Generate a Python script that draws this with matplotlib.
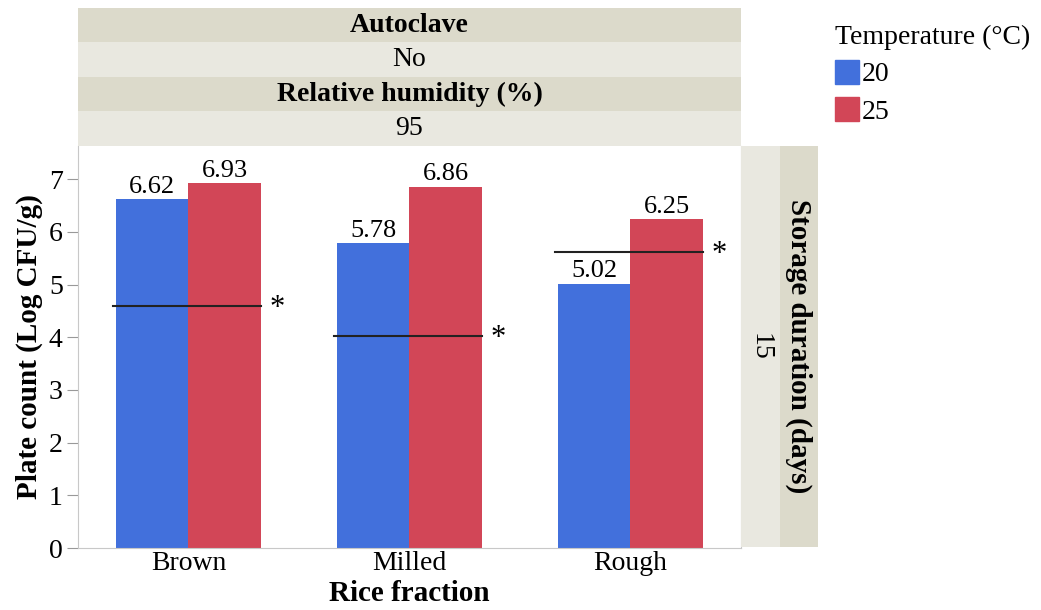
import matplotlib.pyplot as plt
import numpy as np
from matplotlib.patches import Patch

plt.rcParams['font.family'] = ['Liberation Serif', 'DejaVu Serif']

# data
fractions = ["Brown", "Milled", "Rough"]
temps = ["20", "25"]
count_20 = [6.62, 5.78, 5.02]
count_25 = [6.93, 6.86, 6.25]
ref_line = [4.6, 4.02, 5.62]   # reference levels marked with *

blue = "#4270dc"
red = "#d24657"
band_dark = "#dcdacb"
band_light = "#e9e8e0"
edge_gray = "#c8c8c8"

fig = plt.figure(figsize=(10.41, 6.10), dpi=100)

# main plot
ax = fig.add_axes([0.0749, 0.1016, 0.6369, 0.6591])
x = np.arange(len(fractions))
w = 0.327
ax.bar(x - w/2, count_20, w, color=blue)
ax.bar(x + w/2, count_25, w, color=red)

for i in range(len(fractions)):
    ax.text(x[i] - w/2, count_20[i] + 0.02, f"{count_20[i]:.2f}", ha="center", va="bottom", fontsize=19)
    ax.text(x[i] + w/2, count_25[i] + 0.02, f"{count_25[i]:.2f}", ha="center", va="bottom", fontsize=19)
    ax.plot([x[i] - 0.34, x[i] + 0.33], [ref_line[i], ref_line[i]], color="#222222", lw=1.5)
    ax.text(x[i] + 0.40, ref_line[i] - 0.05, "*", ha="center", va="center", fontsize=22)

ax.set_xlim(-0.5, 2.5)
ax.set_ylim(0, 7.63)
ax.set_yticks(range(8))
ax.set_xticks(x)
ax.set_xticklabels(fractions)
ax.tick_params(axis="both", labelsize=20, color="#999999")
ax.tick_params(axis="x", length=0, pad=2)
ax.tick_params(axis="y", length=8, pad=3)
for s in ["left", "bottom", "right"]:
    ax.spines[s].set_color(edge_gray)
ax.spines["top"].set_visible(False)
ax.set_ylabel("Plate count (Log CFU/g)", fontsize=21, fontweight="bold", labelpad=4)
ax.set_xlabel("Rice fraction", fontsize=21, fontweight="bold", labelpad=3)

# header bands on top
hx = fig.add_axes([0.0749, 0.7607, 0.6369, 0.2262])
hx.set_xlim(0, 1)
hx.set_ylim(0, 4)
header_text = ["95", "Relative humidity (%)", "No", "Autoclave"]
for k in range(4):
    hx.axhspan(k, k + 1, color=band_dark if k % 2 else band_light, lw=0)
    hx.text(0.5, k + 0.5, header_text[k], ha="center", va="center", fontsize=20,
            fontweight="bold" if k % 2 else "normal")
hx.axis("off")

# right strip
sx = fig.add_axes([0.7118, 0.1033, 0.074, 0.6574])
sx.set_xlim(0, 2)
sx.set_ylim(0, 1)
sx.axvspan(0, 1, color=band_light, lw=0)
sx.axvspan(1, 2, color=band_dark, lw=0)
sx.text(0.5, 0.5, "15", rotation=-90, ha="center", va="center", fontsize=20)
sx.text(1.5, 0.5, "Storage duration (days)", rotation=-90, ha="center", va="center",
        fontsize=21, fontweight="bold")
sx.axis("off")

# legend
handles = [Patch(color=blue, label=temps[0]), Patch(color=red, label=temps[1])]
leg = fig.legend(handles=handles, title="Temperature (°C)", loc="upper left",
                 bbox_to_anchor=(0.778, 1.0), frameon=False, fontsize=20,
                 title_fontsize=20, handlelength=0.85, handleheight=0.95,
                 handletextpad=0.1, labelspacing=0.35, alignment="left")

fig.savefig("out.png", dpi=100)
